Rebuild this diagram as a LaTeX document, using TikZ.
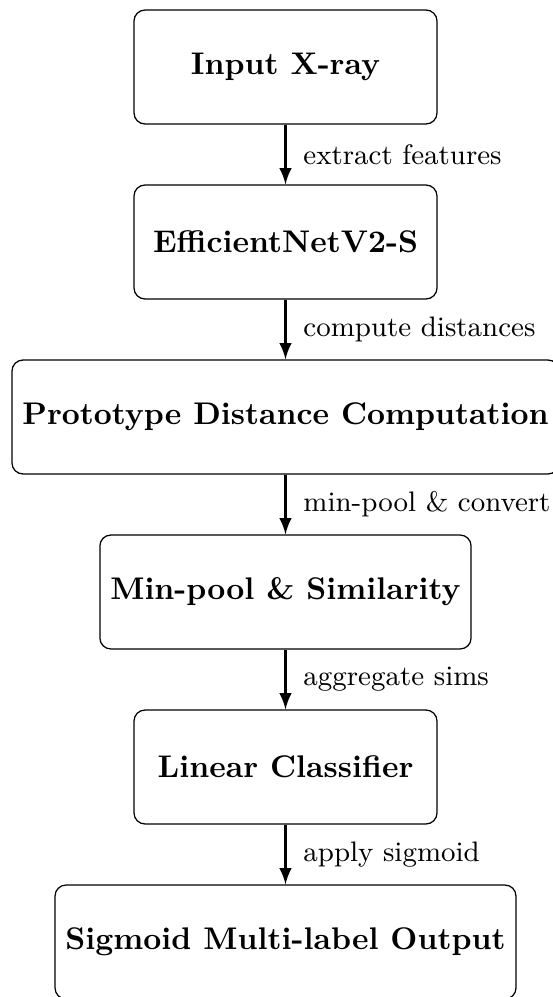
\documentclass[tikz,border=0pt]{standalone}
\usetikzlibrary{arrows.meta}
\begin{document}
\begin{tikzpicture}[x=0.31949pt,y=-0.31949pt,
  box/.style={draw, rounded corners=3.5pt, minimum width=96.8pt, minimum height=36.4pt, font=\bfseries, align=center, line width=0.4pt},
  flow/.style={-latex, line width=0.8pt},
  lbl/.style={font=\small, anchor=west, xshift=2pt}]
\useasboundingbox (0,0) rectangle (552,997);
\node[box] (b1) at (285.5,67) {Input X-ray};
\node[box] (b2) at (285.5,242) {EfficientNetV2-S};
\node[box] (b3) at (285.5,417) {Prototype Distance Computation};
\node[box] (b4) at (285.5,592) {Min-pool \& Similarity};
\node[box] (b5) at (285.5,767) {Linear Classifier};
\node[box] (b6) at (285.5,942) {Sigmoid Multi-label Output};
\draw[flow] (b1) -- node[lbl] {extract features} (b2);
\draw[flow] (b2) -- node[lbl] {compute distances} (b3);
\draw[flow] (b3) -- node[lbl] {min-pool \& convert} (b4);
\draw[flow] (b4) -- node[lbl] {aggregate sims} (b5);
\draw[flow] (b5) -- node[lbl] {apply sigmoid} (b6);
\end{tikzpicture}
\end{document}
